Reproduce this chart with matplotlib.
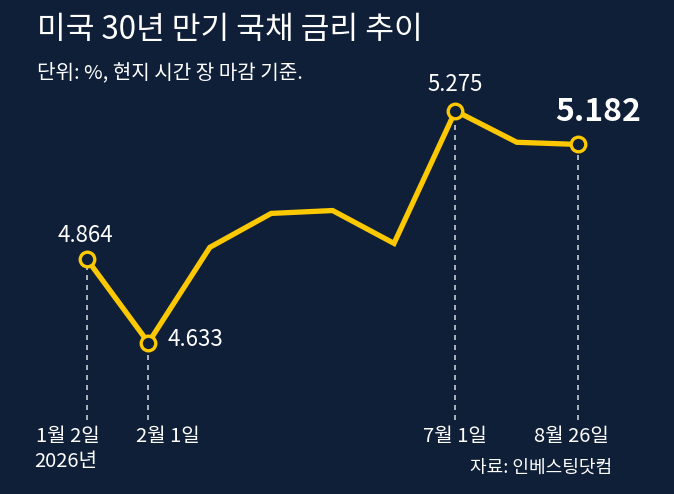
import numpy as np
import matplotlib.pyplot as plt

# %% data
values = [4.864, 4.633, 4.897, 4.991, 4.999, 4.908, 5.275, 5.188, 5.182]
marked = [0, 1, 6, 8]  # points with a ring marker and dashed drop line
date_labels = {0: "1월 2일", 1: "2월 1일", 6: "7월 1일", 8: "8월 26일"}
year_label = "2026년"
value_labels = {0: "4.864", 1: "4.633", 6: "5.275", 8: "5.182"}

title = "미국 30년 만기 국채 금리 추이"
subtitle = "단위: %, 현지 시간 장 마감 기준."
source = "자료: 인베스팅닷컴"

# %% style
bg = "#0f1f38"
yellow = "#fcc800"
plt.rcParams["font.family"] = ["Noto Sans CJK KR", "DejaVu Sans"]

fig = plt.figure(figsize=(6.74, 4.94), dpi=100, facecolor=bg)
ax = fig.add_axes([0, 0, 1, 1])
ax.set_facecolor(bg)
ax.axis("off")
ax.set_xlim(-1.417, 9.56)
ax.set_ylim(4.214, 5.582)

x = np.arange(len(values))
ax.plot(x, values, color=yellow, lw=3.8, solid_joinstyle="miter", zorder=3)
ax.plot(
    x[marked],
    np.array(values)[marked],
    "o",
    ms=10.5,
    mfc=bg,
    mec=yellow,
    mew=2.4,
    zorder=4,
)
# dashed drop lines
y_bottom = 4.42
for i in marked:
    ax.vlines(i, y_bottom, values[i], colors="#c9cdd4", lw=1.2,
              linestyles=(0, (3, 3)), zorder=2)

# value labels (offsets in points from the data point)
val_off = {0: (-1, 17), 1: (14, 2), 6: (0, 19)}
for i, (dx, dy) in val_off.items():
    ax.annotate(value_labels[i], (i, values[i]), xytext=(dx, dy), textcoords="offset points",
                ha="left" if i == 1 else "center", va="center", color="white", fontsize=16)
ax.annotate(value_labels[8], (8, values[8]), xytext=(14, 23), textcoords="offset points",
            ha="center", va="center", color="white", fontsize=23, fontweight="bold")

# date labels under the drop lines
date_off = {0: -14, 1: 14, 6: 0, 8: -5}
for i, lab in date_labels.items():
    ax.annotate(lab, (i, y_bottom), xytext=(date_off[i], -12), textcoords="offset points",
                ha="center", va="center", color="white", fontsize=14.5)
ax.annotate(year_label, (0, y_bottom), xytext=(-15, -30), textcoords="offset points",
            ha="center", va="center", color="white", fontsize=14.5)

fig.text(37 / 674, 1 - 30 / 494, title, color="white", fontsize=22.5, va="center", ha="left")
fig.text(37 / 674, 1 - 73 / 494, subtitle, color="white", fontsize=14.5, va="center", ha="left")
fig.text(612 / 674, 1 - 468 / 494, source, color="white", fontsize=13, va="center", ha="right")

plt.savefig("out.png", dpi=100, facecolor=bg)
